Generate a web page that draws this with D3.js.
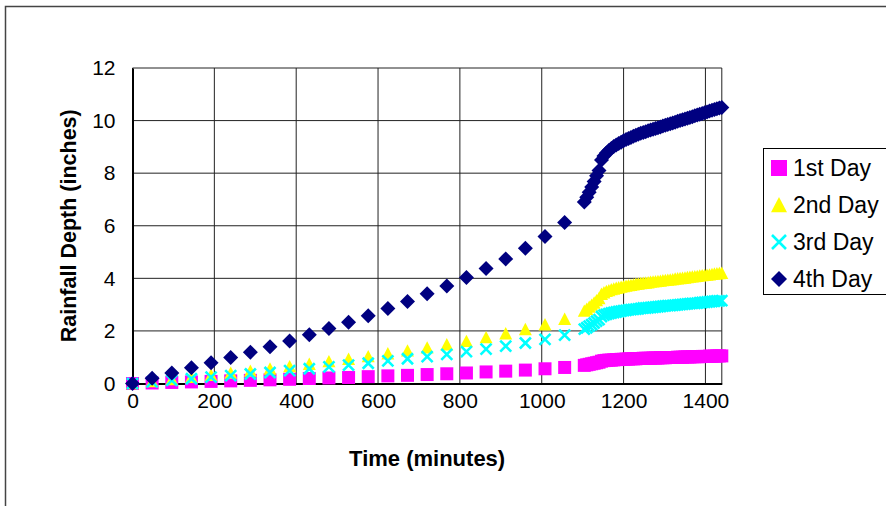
<!DOCTYPE html>
<html>
<head>
<meta charset="utf-8">
<script src="https://cdn.jsdelivr.net/npm/d3@7"></script>
<style>
  body { margin: 0; background: #fff; }
  svg { display: block; font-family: Arial, "Liberation Sans", sans-serif; }
</style>
</head>
<body>
<svg width="886" height="506"></svg>
<script>
// Time axis values (minutes) - sparse part then dense part
const times = [0, 48, 96, 144, 192, 240, 288, 336, 384, 432, 480, 528, 576, 624, 672, 720, 768, 816, 864, 912, 960, 1008, 1056,
  1104, 1110, 1116, 1122, 1128, 1134, 1140, 1146, 1152, 1158, 1164, 1170, 1176, 1182, 1188, 1194, 1200,
  1206, 1212, 1218, 1224, 1230, 1236, 1242, 1248, 1254, 1260, 1266, 1272, 1278, 1284, 1290, 1296,
  1302, 1308, 1314, 1320, 1326, 1332, 1338, 1344, 1350, 1356, 1362, 1368, 1374, 1380, 1386, 1392,
  1398, 1404, 1410, 1416, 1422, 1428, 1434, 1440];

// Rainfall depth (inches) per day
const day1 = [0, 0.02, 0.04, 0.06, 0.08, 0.10, 0.12, 0.14, 0.16, 0.19, 0.21, 0.23, 0.26, 0.29, 0.31, 0.34, 0.37, 0.40, 0.44, 0.47, 0.51, 0.56, 0.61,
  0.69, 0.71, 0.73, 0.75, 0.77, 0.79, 0.81, 0.85, 0.87, 0.88, 0.89, 0.89, 0.90, 0.91, 0.91, 0.92, 0.92,
  0.93, 0.93, 0.94, 0.94, 0.94, 0.95, 0.95, 0.96, 0.96, 0.96, 0.96, 0.97, 0.97, 0.97, 0.98, 0.98,
  0.98, 0.99, 0.99, 0.99, 0.99, 1.00, 1.00, 1.00, 1.01, 1.01, 1.01, 1.02, 1.02, 1.02, 1.02, 1.03,
  1.03, 1.03, 1.04, 1.04, 1.04, 1.05, 1.05, 1.05];

const day2 = [0, 0.08, 0.16, 0.24, 0.32, 0.40, 0.48, 0.56, 0.65, 0.74, 0.84, 0.93, 1.03, 1.14, 1.25, 1.36, 1.48, 1.61, 1.75, 1.90, 2.06, 2.24, 2.45,
  2.76, 2.83, 2.91, 2.99, 3.07, 3.16, 3.24, 3.40, 3.46, 3.51, 3.54, 3.58, 3.60, 3.63, 3.65, 3.67, 3.69,
  3.71, 3.73, 3.74, 3.76, 3.78, 3.79, 3.81, 3.82, 3.83, 3.84, 3.86, 3.87, 3.88, 3.89, 3.90, 3.92,
  3.93, 3.94, 3.95, 3.96, 3.98, 3.99, 4.00, 4.01, 4.02, 4.04, 4.05, 4.06, 4.07, 4.08, 4.10, 4.11,
  4.12, 4.13, 4.14, 4.16, 4.17, 4.18, 4.19, 4.20];

const day3 = [0, 0.06, 0.12, 0.18, 0.24, 0.30, 0.36, 0.42, 0.49, 0.56, 0.63, 0.70, 0.77, 0.86, 0.94, 1.02, 1.11, 1.21, 1.31, 1.42, 1.54, 1.68, 1.84,
  2.07, 2.12, 2.18, 2.24, 2.30, 2.37, 2.43, 2.55, 2.60, 2.63, 2.66, 2.68, 2.70, 2.72, 2.74, 2.75, 2.77,
  2.78, 2.80, 2.81, 2.82, 2.83, 2.84, 2.86, 2.87, 2.87, 2.88, 2.89, 2.90, 2.91, 2.92, 2.93, 2.94,
  2.95, 2.96, 2.96, 2.97, 2.98, 2.99, 3.00, 3.01, 3.02, 3.03, 3.04, 3.05, 3.05, 3.06, 3.07, 3.08,
  3.09, 3.10, 3.11, 3.12, 3.13, 3.14, 3.14, 3.15];

const day4 = [0, 0.20, 0.40, 0.60, 0.79, 0.99, 1.19, 1.40, 1.62, 1.85, 2.09, 2.33, 2.58, 2.85, 3.12, 3.41, 3.71, 4.03, 4.37, 4.74, 5.14, 5.59, 6.12,
  6.90, 7.08, 7.27, 7.47, 7.68, 7.90, 8.10, 8.50, 8.65, 8.77, 8.86, 8.94, 9.01, 9.07, 9.13, 9.18, 9.23,
  9.28, 9.32, 9.36, 9.40, 9.44, 9.48, 9.52, 9.55, 9.58, 9.61, 9.64, 9.67, 9.70, 9.73, 9.76, 9.79,
  9.82, 9.85, 9.88, 9.91, 9.94, 9.97, 10.00, 10.03, 10.06, 10.09, 10.12, 10.15, 10.18, 10.21, 10.24, 10.27,
  10.30, 10.33, 10.36, 10.39, 10.42, 10.45, 10.48, 10.50];

const seriesNames = ["1st Day", "2nd Day", "3rd Day", "4th Day"];
const xTicks = [0, 200, 400, 600, 800, 1000, 1200, 1400];
const yTicks = [0, 2, 4, 6, 8, 10, 12];

const svg = d3.select("svg");

// Plot area
const plotLeft = 132.5, plotRight = 721.8, plotTop = 68, plotBottom = 383.5;

const x = d3.scaleLinear().domain([0, 1440]).range([plotLeft, plotRight]);
const y = d3.scaleLinear().domain([0, 12]).range([plotBottom, plotTop]);

// Outer chart border
svg.append("rect")
    .attr("x", 5.5).attr("y", 6.5)
    .attr("width", 900).attr("height", 520)
    .attr("fill", "none").attr("stroke", "#444").attr("stroke-width", 1.5);

// Gridlines
svg.append("g").selectAll("line")
    .data(xTicks.concat([1440]))
    .join("line")
    .attr("x1", d => x(d)).attr("x2", d => x(d))
    .attr("y1", plotTop).attr("y2", plotBottom)
    .attr("stroke", "#222").attr("stroke-width", 1);

svg.append("g").selectAll("line")
    .data(yTicks.slice(1))
    .join("line")
    .attr("x1", plotLeft).attr("x2", plotRight)
    .attr("y1", d => y(d)).attr("y2", d => y(d))
    .attr("stroke", "#222").attr("stroke-width", 1);

// Axes
const xAxis = svg.append("g")
    .attr("transform", `translate(0,${plotBottom})`)
    .call(d3.axisBottom(x).tickValues(xTicks).tickFormat(d3.format("d")).tickSize(0).tickPadding(10));
const yAxis = svg.append("g")
    .attr("transform", `translate(${plotLeft},0)`)
    .call(d3.axisLeft(y).tickValues(yTicks).tickFormat(d3.format("d")).tickSize(0).tickPadding(17));

[xAxis, yAxis].forEach(g => {
    g.select(".domain").attr("stroke", "#000").attr("stroke-width", 2);
    g.selectAll("text").attr("font-size", 21).attr("fill", "#000")
        .attr("font-family", "Arial, 'Liberation Sans', sans-serif");
});

// Marker shapes
const shapes = {
    square: s => `M${-s},${-s}H${s}V${s}H${-s}Z`,
    triangle: s => `M0,${-s}L${s},${s * 0.9}L${-s},${s * 0.9}Z`,
    cross: s => `M${-s},${-s}L${s},${s}M${-s},${s}L${s},${-s}`,
    diamond: s => `M0,${-s}L${s},0L0,${s}L${-s},0Z`
};

const series = [
    { name: seriesNames[0], values: day1, shape: "square", size: 6.5, color: "#FF00FF" },
    { name: seriesNames[1], values: day2, shape: "triangle", size: 6.5, color: "#FFFF00" },
    { name: seriesNames[2], values: day3, shape: "cross", size: 5.5, color: "#00FFFF" },
    { name: seriesNames[3], values: day4, shape: "diamond", size: 7.5, color: "#000080" }
];

function styleMarker(sel, s) {
    if (s.shape === "cross") {
        sel.attr("fill", "none").attr("stroke", s.color).attr("stroke-width", 2.6);
    } else {
        sel.attr("fill", s.color).attr("stroke", "none");
    }
}

// Draw series points
series.forEach(s => {
    const pts = times.map((t, i) => ({ t: t, v: s.values[i] }));
    svg.append("g").selectAll("path")
        .data(pts)
        .join("path")
        .attr("d", shapes[s.shape](s.size))
        .attr("transform", d => `translate(${x(d.t)},${y(d.v)})`)
        .call(sel => styleMarker(sel, s));
});

// Legend
const legend = svg.append("g");
legend.append("rect")
    .attr("x", 763.5).attr("y", 148.5)
    .attr("width", 140).attr("height", 146)
    .attr("fill", "#fff").attr("stroke", "#000").attr("stroke-width", 1);

series.forEach((s, i) => {
    const cy = 168 + i * 37;
    legend.append("path")
        .attr("d", shapes[s.shape](s.shape === "cross" ? 7 : 8))
        .attr("transform", `translate(779,${cy})`)
        .call(sel => styleMarker(sel, s));
    legend.append("text")
        .attr("x", 793).attr("y", cy + 8)
        .attr("font-size", 23)
        .text(s.name);
});

// Axis titles
svg.append("text")
    .attr("x", (plotLeft + plotRight) / 2).attr("y", 466)
    .attr("text-anchor", "middle")
    .attr("font-size", 22).attr("font-weight", "bold")
    .text("Time (minutes)");

svg.append("text")
    .attr("transform", `translate(76,${(plotTop + plotBottom) / 2}) rotate(-90)`)
    .attr("text-anchor", "middle")
    .attr("font-size", 21.5).attr("font-weight", "bold")
    .text("Rainfall Depth (inches)");
</script>
</body>
</html>
